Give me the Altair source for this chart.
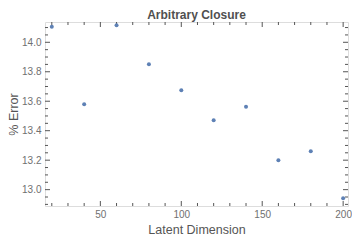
import altair as alt
import pandas as pd

# data
latent_dim = [20, 40, 60, 80, 100, 120, 140, 160, 180, 200]
pct_error = [14.106, 13.579, 14.115, 13.851, 13.674, 13.471, 13.563, 13.199, 13.261, 12.942]

# tick positions
x_major = [50, 100, 150, 200]
x_minor = [20, 30, 40, 60, 70, 80, 90, 110, 120, 130, 140, 160, 170, 180, 190]
y_major = [13.0, 13.2, 13.4, 13.6, 13.8, 14.0]
y_minor = [12.9, 12.95, 13.05, 13.1, 13.15, 13.25, 13.3, 13.35, 13.45, 13.5, 13.55,
           13.65, 13.7, 13.75, 13.85, 13.9, 13.95, 14.05, 14.1]

W, H = 303, 184
FRAME = "#555555"
LABEL = "#707070"
FONT = "Liberation Sans"

xs = alt.Scale(domain=[15.8, 203], nice=False, zero=False)
ys = alt.Scale(domain=[12.889, 14.1377], nice=False, zero=False)

xaxis = alt.Axis(values=x_major, format="d", title="Latent Dimension",
                 ticks=False, tickSize=0, domain=False, grid=False,
                 labelPadding=3, labelFontSize=10, labelColor=LABEL,
                 labelFont=FONT, titleFont=FONT, titleFontSize=12.5,
                 titleFontWeight="normal", titleColor="#555555",
                 titleBaseline="alphabetic", titleY=27, titleX=W / 2)
yaxis = alt.Axis(values=y_major, format=".1f", title="% Error",
                 ticks=False, tickSize=0, domain=False, grid=False,
                 labelPadding=4, labelFontSize=10, labelColor=LABEL,
                 labelFont=FONT, titleFont=FONT, titleFontSize=12.5,
                 titleFontWeight="normal", titleColor="#555555",
                 titleAngle=-90, titleBaseline="middle", titleAlign="center",
                 titleX=-31.5, titleY=H / 2)

df = pd.DataFrame({"dim": latent_dim, "err": pct_error})

points = alt.Chart(df).mark_circle(size=16, color="#5E81B5", opacity=1).encode(
    x=alt.X("dim:Q", scale=xs, axis=xaxis),
    y=alt.Y("err:Q", scale=ys, axis=yaxis),
)


def xticks(vals, length):
    d = pd.DataFrame({"dim": vals})
    bottom = alt.Chart(d).mark_rule(color=FRAME, strokeWidth=1).encode(
        x=alt.X("dim:Q", scale=xs, axis=xaxis), y=alt.value(H), y2=alt.value(H - length))
    top = alt.Chart(d).mark_rule(color=FRAME, strokeWidth=1).encode(
        x=alt.X("dim:Q", scale=xs, axis=xaxis), y=alt.value(0), y2=alt.value(length))
    return [bottom, top]


def yticks(vals, length):
    d = pd.DataFrame({"err": vals})
    left = alt.Chart(d).mark_rule(color=FRAME, strokeWidth=1).encode(
        y=alt.Y("err:Q", scale=ys, axis=yaxis), x=alt.value(0), x2=alt.value(length))
    right = alt.Chart(d).mark_rule(color=FRAME, strokeWidth=1).encode(
        y=alt.Y("err:Q", scale=ys, axis=yaxis), x=alt.value(W), x2=alt.value(W - length))
    return [left, right]


title = alt.Chart(pd.DataFrame({"t": ["Arbitrary Closure"]})).mark_text(
    font=FONT, fontSize=12, fontWeight="bold", color="#505050",
    align="center", baseline="alphabetic").encode(
    text="t:N", x=alt.value(W / 2), y=alt.value(-3.5))

layers = xticks(x_major, 5) + xticks(x_minor, 3) + yticks(y_major, 5) + yticks(y_minor, 3) + [points, title]

chart = alt.layer(*layers).properties(
    width=W,
    height=H,
    autosize=alt.AutoSizeParams(type="none"),
    padding={"left": 37, "top": 14, "right": 4, "bottom": 31},
).configure_view(stroke=FRAME, strokeWidth=1).configure(background="white")

chart.save("out.html", embed_options={"renderer": "svg", "actions": False})
